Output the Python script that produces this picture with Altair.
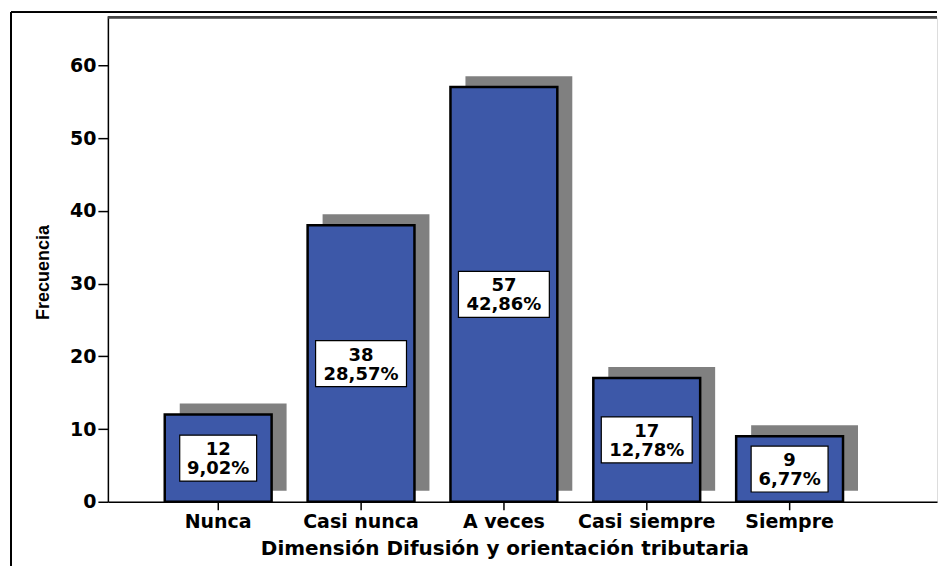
import altair as alt
import pandas as pd

# Frequency table for "Dimensión Difusión y orientación tributaria"
categorias = ["Nunca", "Casi nunca", "A veces", "Casi siempre", "Siempre"]
frecuencias = [12, 38, 57, 17, 9]
porcentajes = ["9,02%", "28,57%", "42,86%", "12,78%", "6,77%"]

df = pd.DataFrame({"cat": categorias, "freq": frecuencias, "pct": porcentajes})

W, H = 830, 485
AXIS_FONT = "DejaVu Sans"
BLUE = "#3d58a8"

x_enc = alt.X(
    "cat:N",
    sort=categorias,
    scale=alt.Scale(paddingInner=0.252, paddingOuter=0.528, align=0.377),
    axis=alt.Axis(
        title="Dimensión Difusión y orientación tributaria",
        labelAngle=0,
        labelFont=AXIS_FONT, labelFontWeight="bold", labelFontSize=19, labelColor="black",
        labelPadding=3,
        tickSize=8, tickColor="black", tickWidth=1.5,
        domainColor="black", domainWidth=1.5,
        titleFont=AXIS_FONT, titleFontWeight="bold", titleFontSize=20, titleColor="black",
        titleX=397, titleY=47, titleAnchor="start", titleAlign="center", titleBaseline="middle",
    ),
)

y_scale = alt.Scale(domain=[0, 66.6], nice=False)
y_enc = alt.Y(
    "freq:Q",
    scale=y_scale,
    axis=alt.Axis(
        title="Frecuencia",
        values=[0, 10, 20, 30, 40, 50, 60],
        grid=False,
        labelFont=AXIS_FONT, labelFontWeight="bold", labelFontSize=19, labelColor="black",
        labelPadding=2,
        tickSize=10, tickColor="black", tickWidth=1.5,
        domainColor="black", domainWidth=1.5,
        titleFont="Liberation Sans", titleFontWeight="bold", titleFontSize=18, titleColor="black",
        titleX=-64, titleY=255, titleAngle=270, titleAlign="center", titleBaseline="middle",
    ),
)

base = alt.Chart(df)

# Drop shadow behind each bar
shadow = base.mark_bar(color="#808080", xOffset=15, x2Offset=15, yOffset=-11, y2Offset=-11).encode(
    x=x_enc, y=y_enc, y2=alt.datum(0)
)

bars = base.mark_bar(color=BLUE, stroke="black", strokeWidth=2.5).encode(
    x=x_enc, y=y_enc
)

# White label boxes centred at half the bar height
lab = base.transform_calculate(
    mid="datum.freq / 2",
    boxw="14 * length(datum.pct) + 7",
    txt="[format(datum.freq, 'd'), datum.pct]",
)

boxes = lab.mark_bar(color="white", stroke="black", strokeWidth=1.2, yOffset=-23, y2Offset=23).encode(
    x=x_enc,
    y=alt.Y("mid:Q", scale=y_scale),
    y2="mid:Q",
    size=alt.Size("boxw:Q", scale=None, legend=None),
)

texts = lab.mark_text(
    font=AXIS_FONT, fontWeight="bold", fontSize=18, color="black",
    lineHeight=19, baseline="middle", align="center", dy=-8,
).encode(
    x=x_enc,
    y=alt.Y("mid:Q", scale=y_scale),
    text="txt:N",
)

# Frame lines: plot top edge and the outer border
top_line = alt.Chart(df).mark_rule(color="#444", strokeWidth=2).encode(
    x=alt.value(0), x2=alt.value(W), y=alt.value(0)
)
outer_top = alt.Chart(df).mark_rule(color="black", strokeWidth=1.5).encode(
    x=alt.value(-97), x2=alt.value(W), y=alt.value(-5)
)
outer_left = alt.Chart(df).mark_rule(color="black", strokeWidth=1.5).encode(
    x=alt.value(-97), y=alt.value(-5), y2=alt.value(H + 64)
)

chart = (
    alt.layer(outer_top, outer_left, top_line, shadow, bars, boxes, texts)
    .properties(width=W, height=H, padding={"left": 10, "top": 11, "right": 0, "bottom": 0})
    .configure_view(stroke=None)
    .configure(background="white")
)

chart.save("out.html", embed_options={"renderer": "svg", "actions": False})
